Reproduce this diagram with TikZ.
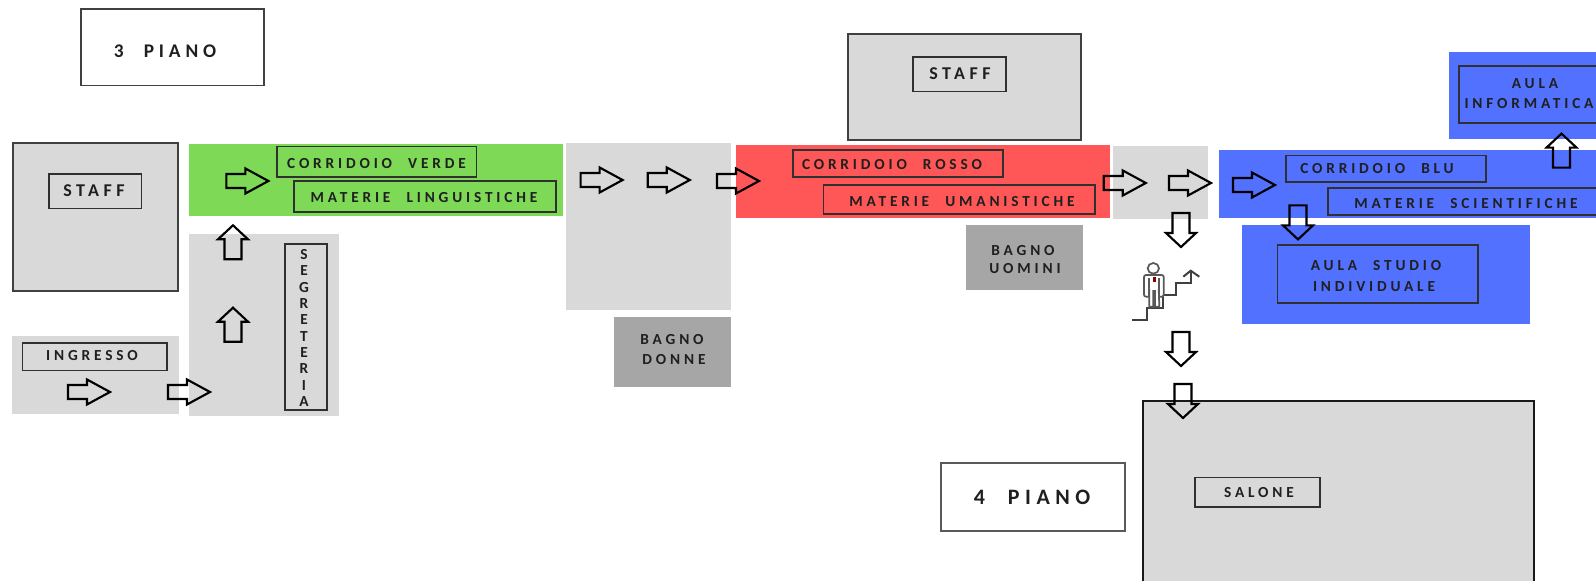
\documentclass[tikz,border=0pt]{standalone}
\usepackage{fontspec}
\setmainfont{Carlito}
\newfontfamily\lbl[LetterSpace=25,WordSpace=2.2,BoldFont=Carlito Bold]{Carlito}
\definecolor{roomgray}{HTML}{D9D9D9}
\definecolor{bathgray}{HTML}{A6A6A6}
\definecolor{corrgreen}{HTML}{7ED957}
\definecolor{corrred}{HTML}{FF5757}
\definecolor{corrblue}{HTML}{5271FF}
\definecolor{edgegray}{HTML}{303030}
\tikzset{
  x=0.75pt,y=-0.75pt,
  plate/.style={draw=edgegray,line width=1.1pt},
  bigplate/.style={draw=black!75,fill=roomgray,line width=1.5pt},
  tag/.style={inner sep=0pt,text=black!88,font=\lbl\bfseries\fontsize{11.5}{12}\selectfont},
  tagB/.style={inner sep=0pt,text=black!88,align=center,font=\lbl\bfseries\fontsize{11.5}{12.25}\selectfont},
  tagC/.style={inner sep=0pt,text=black!88,font=\lbl\bfseries\fontsize{13.5}{14}\selectfont},
  tagD/.style={inner sep=0pt,text=black!88,font=\lbl\bfseries\fontsize{16.5}{18}\selectfont},
  tagE/.style={inner sep=0pt,text=black!88,font=\lbl\bfseries\fontsize{14.5}{16}\selectfont},
  hblock/.pic={\draw[black,line width=1.6pt,line join=miter] (-21,-7)--(-2,-7)--(-2,-12.5)--(21,0)--(-2,12.5)--(-2,7)--(-21,7)--cycle;},
  vblock/.pic={\draw[black,line width=1.6pt,line join=miter] (-17,-8.5)--(3,-8.5)--(3,-15)--(17,0)--(3,15)--(3,8.5)--(-17,8.5)--cycle;},
}
\begin{document}
\begin{tikzpicture}
\clip (0,0) rectangle (1596,581);
% backgrounds
\fill[roomgray] (12,336) rectangle (179,414);
\fill[corrgreen] (189,144.5) rectangle (563,216);
\fill[roomgray] (189,234) rectangle (339,416);
\fill[roomgray] (566,143.5) rectangle (731,310);
\fill[bathgray] (614,316.5) rectangle (731,387);
\fill[corrred] (736,145.5) rectangle (1109.5,218);
\fill[bathgray] (966,225) rectangle (1083,290);
\fill[roomgray] (1113,146.5) rectangle (1208,219);
\fill[corrblue] (1219,150.5) rectangle (1600,218);
\fill[corrblue] (1242,225) rectangle (1530,324);
\fill[corrblue] (1449,52) rectangle (1600,139.5);
% framed rooms
\draw[bigplate] (13,143.5) rectangle (178,291);
\draw[bigplate] (848,34.5) rectangle (1081,140.5);
\draw[draw=black!90,fill=roomgray,line width=2pt] (1143,401) rectangle (1534,595);
\draw[draw=black!75,line width=1.2pt] (81,9) rectangle (264,85.5);
\draw[draw=black!65,line width=1pt] (941,463) rectangle (1125,531);
% label frames
\draw[plate] (49,174) rectangle (141.5,208.5);
\draw[plate] (22.5,343) rectangle (167,370.5);
\draw[plate] (277,146.5) rectangle (476.5,177);
\draw[plate] (294,181) rectangle (556,212);
\draw[plate] (285,244) rectangle (327,410);
\draw[plate] (793,150) rectangle (1003,177);
\draw[plate] (823.5,185) rectangle (1095,214);
\draw[plate] (913,57) rectangle (1006,91.6);
\draw[plate] (1286,155.5) rectangle (1486,182);
\draw[plate] (1328,188) rectangle (1610,215);
\draw[plate] (1277.5,245) rectangle (1478,303);
\draw[plate] (1459,66) rectangle (1610,123);
\draw[plate] (1195,477.5) rectangle (1320,507);
% texts
\node[tagE] (piano3) at (165,51) {3 PIANO};
\node[tagD] (piano4) at (1032,497) {4 PIANO};
\node[tagC] (staffa) at (94,190.5) {STAFF};
\node[tagC] (staffb) at (960,73.5) {STAFF};
\node[tag] (ingresso) at (92,356) {INGRESSO};
\node[tag] (cverde) at (376.5,164) {CORRIDOIO VERDE};
\node[tag] (mling) at (424,197.5) {MATERIE LINGUISTICHE};
\node[tag] (crosso) at (892,165) {CORRIDOIO ROSSO};
\node[tag] (muman) at (962,201.5) {MATERIE UMANISTICHE};
\node[tag] (cblu) at (1377,169) {CORRIDOIO BLU};
\node[tag] (mscie) at (1466,203.6) {MATERIE SCIENTIFICHE};
\node[tag] (salone) at (1259,492.6) {SALONE};
\node[tagB] (segr) at (304,328) {S\\E\\G\\R\\E\\T\\E\\R\\I\\A};
\node[tag] (bdonne1) at (672,340) {BAGNO};
\node[tag] (bdonne2) at (674,360) {DONNE};
\node[tag] (buomini1) at (1023,250.5) {BAGNO};
\node[tag] (buomini2) at (1025,269) {UOMINI};
\node[tag] (astudio1) at (1376,265.7) {AULA STUDIO};
\node[tag] (astudio2) at (1374,287) {INDIVIDUALE};
\node[tag] (ainf1) at (1535,83.5) {AULA};
\node[tag] (ainf2) at (1529,104) {INFORMATICA};
% arrows
\foreach \px/\py in {247.4/181,89/392,189/392,601.6/180,668.8/180,738/181,1124.8/183,1190/183,1254/185}
  \pic at (\px,\py) {hblock};
\foreach \px/\py in {233/242.3,233/324.7,1561.5/150.6}
  \pic[rotate=90] at (\px,\py) {vblock};
\foreach \px/\py in {1181/230,1181/349,1183/401,1298/222.4}
  \pic[rotate=-90] at (\px,\py) {vblock};
% figure on the stairs
\draw[black!75,line width=1.5pt,line join=miter]
  (1132.3,320)--(1146.7,320)--(1146.7,307.7)--(1162.7,307.7)--(1162.7,295)--(1176,295)--(1176,283.3)--(1190.7,283.3)--(1190.7,271.7);
\draw[black!75,line width=1.5pt] (1183.3,276.7)--(1190.7,270.7)--(1199.3,276.7);
\begin{scope}[shift={(1120,255)},x=0.25pt,y=-0.25pt]
\draw[black!65,line width=1.3pt,fill=white] (100,40) ellipse (17 and 16);
\draw[black!65,line width=1.3pt,fill=white,rounded corners=1.5pt] (72,125) rectangle (131,60);
\draw[black!65,line width=1.3pt] (86,70)--(86,125) (117,70)--(117,125);
\draw[black!65,line width=1.3pt,fill=white] (88,100)--(88,155)--(100,155)--(100,108)--(105,108)--(105,155)--(118,155)--(116,100);
\fill[red!55!black] (99,65) rectangle (107,80);
\end{scope}
\end{tikzpicture}
\end{document}
